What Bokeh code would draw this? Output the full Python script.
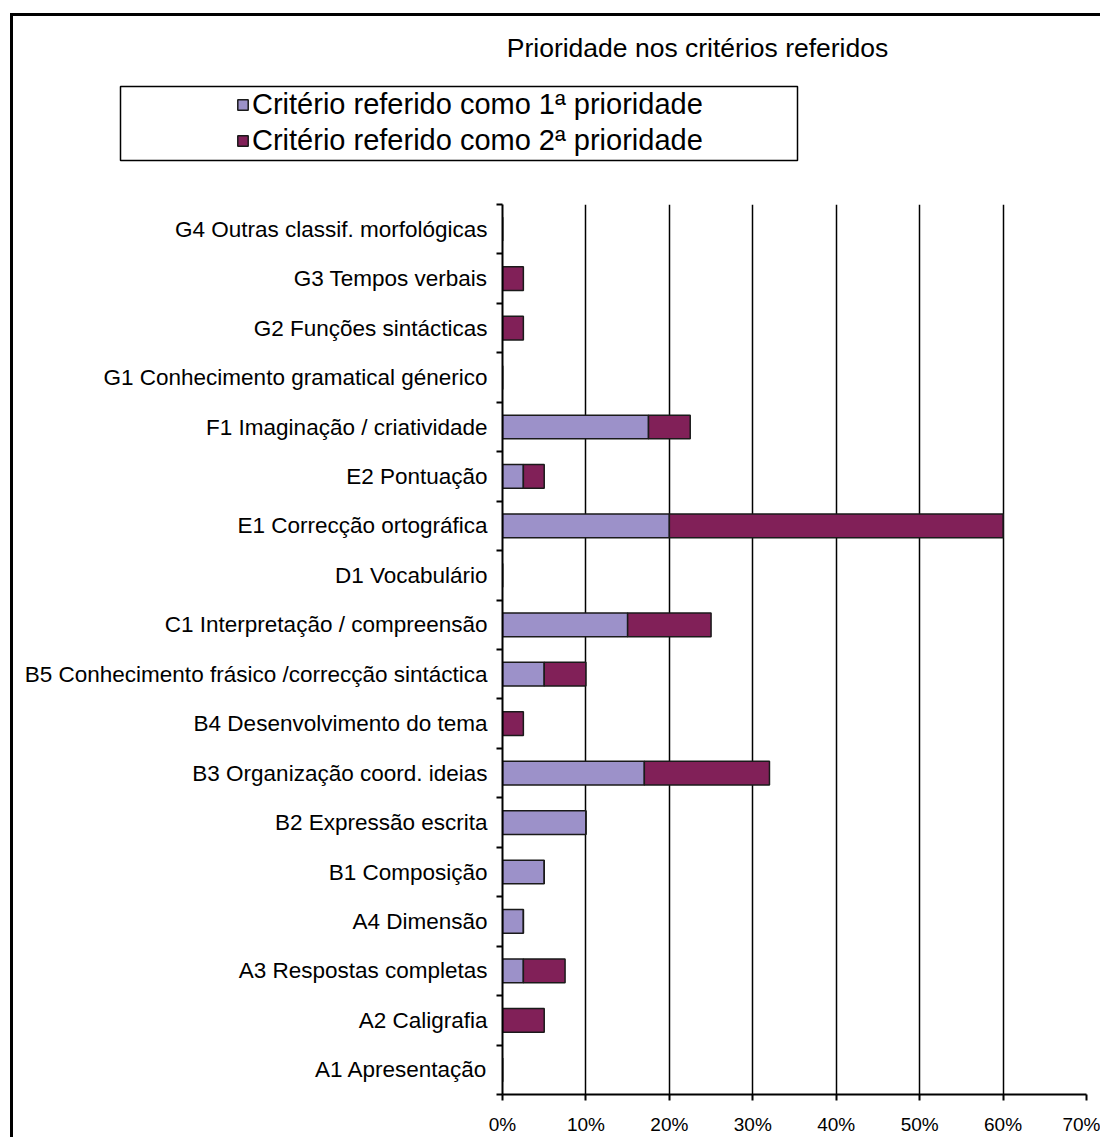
import numpy as np
from bokeh.plotting import figure
from bokeh.models import (FixedTicker, Legend, LegendItem, BoxAnnotation, Label,
                          ColumnDataSource, Range1d, PrintfTickFormatter)
from bokeh.embed import file_html
from bokeh.resources import INLINE

# ---- data (bottom to top) ----
categories = [
    "A1 Apresentação",
    "A2 Caligrafia",
    "A3 Respostas completas",
    "A4 Dimensão",
    "B1 Composição",
    "B2 Expressão escrita",
    "B3 Organização coord. ideias",
    "B4 Desenvolvimento do tema",
    "B5 Conhecimento frásico /correcção sintáctica",
    "C1 Interpretação / compreensão",
    "D1 Vocabulário",
    "E1 Correcção ortográfica",
    "E2 Pontuação",
    "F1 Imaginação / criatividade",
    "G1 Conhecimento gramatical génerico",
    "G2 Funções sintácticas",
    "G3 Tempos verbais",
    "G4 Outras classif. morfológicas",
]
prioridade_1 = [0, 0, 2.5, 2.5, 5, 10, 17, 0, 5, 15, 0, 20, 2.5, 17.5, 0, 0, 0, 0]
prioridade_2 = [0, 5, 5, 0, 0, 0, 15, 2.5, 5, 10, 0, 40, 2.5, 5, 0, 2.5, 2.5, 0]
series_labels = ["Critério referido como 1ª prioridade", "Critério referido como 2ª prioridade"]
x_ticks = [0, 10, 20, 30, 40, 50, 60, 70]
title_text = "Prioridade nos critérios referidos"

COL1 = "#9c91c9"
COL2 = "#812058"
EDGE = "#1a1a1a"
FONT = "Liberation Sans"

# page geometry (CSS offsets of the chart area)
OX, OY = 13, 16          # inside of the outer border
W = 1090
TOP_H = 186
BOT_H = 938

n = len(categories)
ypos = list(range(n))
source = ColumnDataSource(dict(y=ypos, p1=prioridade_1, p2=prioridade_2))

# ---------------- header: title + legend ----------------
top = figure(width=W, height=TOP_H, output_backend="svg", toolbar_location=None,
             title=None, x_axis_location=None, y_axis_location=None,
             x_range=Range1d(OX, OX + W), y_range=Range1d(OY + TOP_H, OY),
             min_border=0, min_border_left=0, min_border_right=0,
             min_border_top=0, min_border_bottom=0)
top.outline_line_color = None
top.grid.visible = False
top.background_fill_color = "white"
top.border_fill_color = "white"
top.styles = {"margin-left": "10px", "margin-top": "13px",
              "border-left": "3px solid black", "border-top": "3px solid black"}

top.add_layout(Label(x=697, y=47, text=title_text, text_align="center",
                     text_baseline="middle", text_font=FONT, text_font_size="26.5px",
                     text_color="black"))

top.add_layout(BoxAnnotation(left=120, right=797, top=86, bottom=160,
                             fill_color=None, line_color="black", line_alpha=1,
                             line_width=1.5))

# hidden renderers that only lend their style to the legend swatches
proxy1 = top.hbar(y="y", right="p1", height=0.48, fill_color=COL1, line_color=EDGE,
                  line_width=1.5, source=source, visible=False)
proxy2 = top.hbar(y="y", right="p2", height=0.48, fill_color=COL2, line_color=EDGE,
                  line_width=1.5, source=source, visible=False)

legend = Legend(items=[LegendItem(label=series_labels[0], renderers=[proxy1]),
                       LegendItem(label=series_labels[1], renderers=[proxy2])],
                location=(236 - OX, TOP_H - (86 - OY) - 72), orientation="vertical",
                padding=0, margin=0, spacing=0,
                border_line_alpha=0, background_fill_alpha=0,
                inactive_fill_alpha=0,
                glyph_width=13, glyph_height=13, label_height=36, label_standoff=3,
                label_text_font=FONT, label_text_font_size="29px",
                label_text_color="black")
top.add_layout(legend)

# ---------------- bar chart ----------------
p = figure(width=W, height=BOT_H, output_backend="svg", toolbar_location=None,
           title=None, x_range=Range1d(0, 70), y_range=Range1d(-0.5, n - 0.5),
           min_border_left=502 - OX, min_border_right=OX + W - 1086,
           min_border_top=5, min_border_bottom=43)
p.outline_line_color = None
p.background_fill_color = "white"
p.border_fill_color = "white"
p.styles = {"margin-left": "10px", "border-left": "3px solid black"}

p.hbar_stack(["p1", "p2"], y="y", height=0.48, color=[COL1, COL2],
             line_color=EDGE, line_width=1.5, source=source)

yax = p.yaxis[0]
yax.ticker = FixedTicker(ticks=ypos, minor_ticks=[i - 0.5 for i in range(n + 1)])
yax.major_label_overrides = {i: c for i, c in zip(ypos, categories)}
yax.major_tick_out = 0
yax.major_tick_in = 0
yax.minor_tick_out = 6
yax.minor_tick_in = 0
yax.minor_tick_line_color = "black"
yax.minor_tick_line_width = 2
yax.axis_line_color = "black"
yax.axis_line_width = 2
yax.major_label_text_font = FONT
yax.major_label_text_font_size = "22.5px"
yax.major_label_text_color = "black"
yax.major_label_standoff = 9

xax = p.xaxis[0]
xax.ticker = FixedTicker(ticks=x_ticks)
xax.formatter = PrintfTickFormatter(format="%d%%")
xax.axis_line_color = "black"
xax.axis_line_width = 2
xax.major_tick_line_color = "black"
xax.major_tick_line_width = 2
xax.major_tick_out = 6
xax.major_tick_in = 0
xax.minor_tick_line_color = None
xax.major_label_text_font = FONT
xax.major_label_text_font_size = "19px"
xax.major_label_text_color = "black"
xax.major_label_standoff = 13

p.ygrid.visible = False
p.xgrid.ticker = FixedTicker(ticks=x_ticks[1:-1])
p.xgrid.grid_line_color = "black"
p.xgrid.grid_line_width = 1.5
p.xgrid.grid_line_alpha = 1

open("out.html", "w").write(file_html([top, p], INLINE))
